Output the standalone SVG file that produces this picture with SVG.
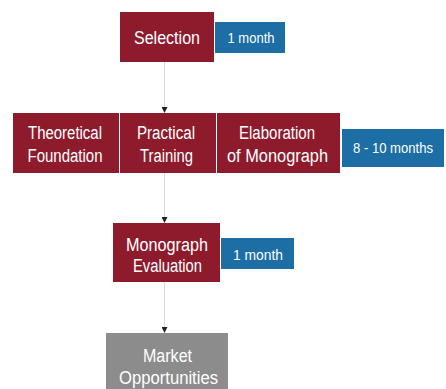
<svg xmlns="http://www.w3.org/2000/svg" width="446" height="389" viewBox="0 0 446 389">
<style>
.red{fill:#8e1b2c}
.blue{fill:#1c6ea4}
.gray{fill:#8c8c8c}
.t{font-family:"Liberation Sans",Arial,sans-serif;font-size:18px;fill:#fff;text-anchor:middle}
.s{font-family:"Liberation Sans",Arial,sans-serif;font-size:15.5px;fill:#fff;text-anchor:middle}
.c{stroke:#d8d8d8;stroke-width:1;fill:none;marker-end:url(#a)}
</style>
<defs>
<marker id="a" markerWidth="6" markerHeight="6" refX="5" refY="3" orient="auto" markerUnits="userSpaceOnUse">
<path d="M0,0 L6,3 L0,6 Z" fill="#222"/>
</marker>
</defs>
<rect width="446" height="389" fill="#fff"/>
<g id="connectors">
<line class="c" x1="164.5" y1="62" x2="164.5" y2="112"/>
<line class="c" x1="164.5" y1="173" x2="164.5" y2="222"/>
<line class="c" x1="164.5" y1="282" x2="164.5" y2="332"/>
</g>
<g id="selection">
<rect class="red" x="120" y="12" width="94" height="50"/>
<text class="t" x="167" y="43.5" textLength="66" lengthAdjust="spacingAndGlyphs">Selection</text>
</g>
<g id="selection-duration">
<rect class="blue" x="215" y="22" width="70" height="31"/>
<text class="s" x="251" y="43" textLength="47" lengthAdjust="spacingAndGlyphs">1 month</text>
</g>
<g id="theoretical-foundation">
<rect class="red" x="13" y="113" width="106" height="60"/>
<text class="t" x="65" y="139" textLength="74" lengthAdjust="spacingAndGlyphs">Theoretical</text>
<text class="t" x="65" y="162" textLength="75" lengthAdjust="spacingAndGlyphs">Foundation</text>
</g>
<g id="practical-training">
<rect class="red" x="120" y="113" width="96" height="60"/>
<text class="t" x="166" y="139" textLength="58" lengthAdjust="spacingAndGlyphs">Practical</text>
<text class="t" x="166.5" y="162" textLength="53" lengthAdjust="spacingAndGlyphs">Training</text>
</g>
<g id="elaboration-monograph">
<rect class="red" x="217" y="113" width="123" height="60"/>
<text class="t" x="277" y="139" textLength="76" lengthAdjust="spacingAndGlyphs">Elaboration</text>
<text class="t" x="277.5" y="162" textLength="101" lengthAdjust="spacingAndGlyphs">of  Monograph</text>
</g>
<g id="phase-duration">
<rect class="blue" x="342" y="129" width="102" height="38"/>
<text class="s" x="393" y="153" style="font-size:14px" textLength="80" lengthAdjust="spacingAndGlyphs">8 - 10 months</text>
</g>
<g id="monograph-evaluation">
<rect class="red" x="113" y="223" width="107" height="59"/>
<text class="t" x="167" y="251" textLength="82" lengthAdjust="spacingAndGlyphs">Monograph</text>
<text class="t" x="167.5" y="272" textLength="69" lengthAdjust="spacingAndGlyphs">Evaluation</text>
</g>
<g id="evaluation-duration">
<rect class="blue" x="221" y="238" width="73" height="31"/>
<text class="s" x="258" y="259.5" textLength="50" lengthAdjust="spacingAndGlyphs">1 month</text>
</g>
<g id="market-opportunities">
<rect class="gray" x="106" y="333" width="122" height="56"/>
<text class="t" x="167.5" y="362" textLength="49" lengthAdjust="spacingAndGlyphs">Market</text>
<text class="t" x="168.5" y="384" textLength="99" lengthAdjust="spacingAndGlyphs">Opportunities</text>
</g>
</svg>
